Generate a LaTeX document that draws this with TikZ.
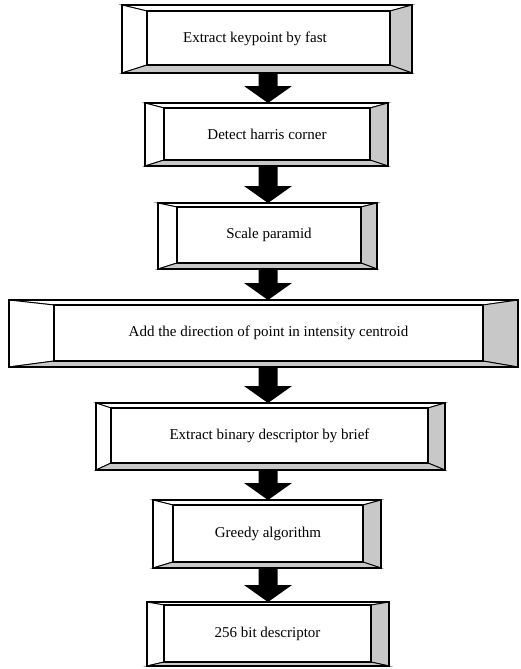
\documentclass[tikz,border=0pt]{standalone}
\usepackage{fontspec}
\setmainfont{Liberation Serif}
\usetikzlibrary{calc}
\definecolor{bevgray}{RGB}{200,200,200}
\tikzset{
  outerbox/.style={rectangle, inner sep=0pt, outer sep=0pt},
  innerbox/.style={rectangle, inner sep=0pt, outer sep=0pt, font=\fontsize{15}{17}\selectfont},
  panel/.style={draw=black, line width=0.9pt, line join=miter},
  outerline/.style={draw=black, line width=2.4pt},
  innerline/.style={draw=black, line width=1.7pt},
  flowarrow/.style={fill=black},
}
\newcommand\bevelpanels[2]{%
  \filldraw[panel, fill=white] (#1.north west) -- (#1.north east) -- (#2.north east) -- (#2.north west) -- cycle;
  \filldraw[panel, fill=white] (#1.north west) -- (#2.north west) -- (#2.south west) -- (#1.south west) -- cycle;
  \filldraw[panel, fill=bevgray] (#1.north east) -- (#1.south east) -- (#2.south east) -- (#2.north east) -- cycle;
  \filldraw[panel, fill=bevgray] (#1.south west) -- (#1.south east) -- (#2.south east) -- (#2.south west) -- cycle;
  \draw[outerline] (#1.north west) rectangle (#1.south east);
  \draw[innerline] (#2.north west) rectangle (#2.south east);
}
\newcommand\blockarrow[2]{%
  \fill[flowarrow] let \p1=(#1), \p2=(#2) in
    (\x1-9.5pt,\y1) -- (\x1+9.5pt,\y1) -- (\x1+9.5pt,\y2+17pt) -- (\x1+24pt,\y2+17pt)
    -- (\x1,\y2) -- (\x1-24pt,\y2+17pt) -- (\x1-9.5pt,\y2+17pt) -- cycle;
}
\begin{document}
\begin{tikzpicture}[x=1pt,y=-1pt]
\useasboundingbox (0,0) rectangle (520,669);
\coordinate (axis) at (268,0);

% box 1
\node[outerbox, minimum width=290pt, minimum height=68pt] (o1) at (267,39) {};
\node[innerbox, minimum width=243pt, minimum height=54pt] (b1) at (268.5,38) {};
\node[innerbox] (t1) at (255,39) {Extract keypoint by fast};
% box 2
\node[outerbox, minimum width=243pt, minimum height=63pt] (o2) at (266.5,134.5) {};
\node[innerbox, minimum width=206pt, minimum height=52pt] (b2) at (267,134) {Detect harris corner};
% box 3
\node[outerbox, minimum width=219pt, minimum height=66pt] (o3) at (267.5,236) {};
\node[innerbox, minimum width=184pt, minimum height=56pt] (b3) at (269,235) {Scale paramid};
% box 4
\node[outerbox, minimum width=509pt, minimum height=67pt] (o4) at (263.5,333.5) {};
\node[innerbox, minimum width=429pt, minimum height=56pt] (b4) at (268.5,333) {Add the direction of point in intensity centroid};
% box 5
\node[outerbox, minimum width=349pt, minimum height=67pt] (o5) at (270.5,436.5) {};
\node[innerbox, minimum width=317pt, minimum height=55pt] (b5) at (269.5,435.5) {Extract binary descriptor by brief};
% box 6
\node[outerbox, minimum width=228pt, minimum height=68pt] (o6) at (267,534) {};
\node[innerbox, minimum width=190pt, minimum height=57pt] (b6) at (268,533.5) {Greedy algorithm};
% box 7
\node[outerbox, minimum width=242pt, minimum height=64pt] (o7) at (268,634) {};
\node[innerbox, minimum width=207pt, minimum height=57pt] (b7) at (267.5,633.5) {256 bit descriptor};

\bevelpanels{o1}{b1}
\bevelpanels{o2}{b2}
\bevelpanels{o3}{b3}
\bevelpanels{o4}{b4}
\bevelpanels{o5}{b5}
\bevelpanels{o6}{b6}
\bevelpanels{o7}{b7}

\blockarrow{o1.south -| axis}{o2.north -| axis}
\blockarrow{o2.south -| axis}{o3.north -| axis}
\blockarrow{o3.south -| axis}{o4.north -| axis}
\blockarrow{o4.south -| axis}{o5.north -| axis}
\blockarrow{o5.south -| axis}{o6.north -| axis}
\blockarrow{o6.south -| axis}{o7.north -| axis}
\end{tikzpicture}
\end{document}
